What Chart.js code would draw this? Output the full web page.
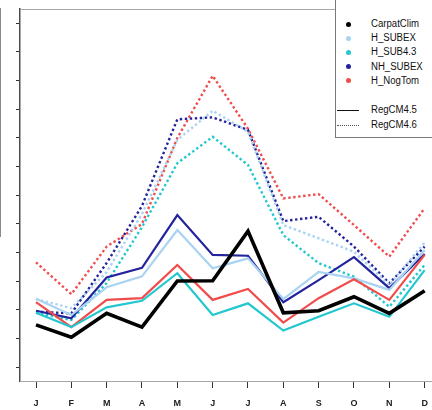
<!DOCTYPE html>
<html>
<head>
<meta charset="utf-8">
<script src="https://cdn.jsdelivr.net/npm/chart.js@4"></script>
<style>
  html, body { margin: 0; padding: 0; background: #fff; }
  body { width: 432px; height: 410px; overflow: hidden; position: relative; font-family: "Liberation Sans", Arial, sans-serif; }
  #wrap { position: absolute; left: 0; top: 0; width: 441px; height: 410px; }
  .edge { position: absolute; left: 0; top: 8px; width: 1px; height: 229px; background: #8a8a8a; }
  .legend { position: absolute; left: 335px; top: -5px; width: 110px; height: 141px; border: 1px solid #7a7a7a; background: #fff; }
  .dot { position: absolute; left: 346px; width: 5px; height: 5px; border-radius: 50%; }
  .txt { position: absolute; left: 371px; font-size: 10px; line-height: 12px; color: #111; transform: scaleX(0.96); transform-origin: left center; white-space: nowrap; }
  .smp { position: absolute; left: 337px; width: 22px; height: 0; }
</style>
</head>
<body>
<div id="wrap"><canvas id="c" width="441" height="410"></canvas></div>
<div class="edge"></div>
<div class="legend"></div>
<div id="leg"></div>
<script>
// month labels and axis ticks
const months = ['J', 'F', 'M', 'A', 'M', 'J', 'J', 'A', 'S', 'O', 'N', 'D'];
const yTicks = [0, 10, 20, 30, 40, 50, 60, 70, 80, 90, 100, 110, 120];

// observations
const carpatClim = [14.8, 10.5, 18.8, 14.0, 30.1, 30.2, 47.5, 19.0, 19.7, 24.6, 18.8, 26.7];

// RegCM4.5 runs
const hSubex45  = [23.9, 18.2, 27.9, 31.7, 47.9, 34.5, 38.0, 23.8, 33.3, 31.0, 27.0, 40.9];
const hSub43_45 = [19.0, 14.0, 20.9, 23.2, 32.8, 18.2, 22.3, 12.8, 17.6, 22.3, 17.6, 33.9];
const nhSubex45 = [19.7, 17.1, 31.3, 34.7, 53.1, 39.2, 38.9, 22.7, 30.4, 38.4, 27.6, 39.5];
const hNogTom45 = [22.7, 14.0, 23.5, 24.1, 35.7, 23.5, 27.3, 15.6, 24.1, 30.7, 23.5, 39.2];

// RegCM4.6 runs
const hSubex46  = [23.8, 20.6, 33.2, 53.5, 79.3, 89.5, 82.2, 49.6, 45.0, 40.3, 28.7, 43.5];
const hSub43_46 = [19.0, 16.5, 29.4, 48.9, 71.2, 80.4, 70.6, 46.1, 36.3, 31.6, 21.1, 35.7];
const nhSubex46 = [19.4, 18.8, 36.4, 56.3, 86.5, 87.2, 82.8, 51.0, 52.5, 42.1, 29.3, 42.1];
const hNogTom46 = [36.6, 25.5, 42.1, 50.0, 80.0, 101.7, 83.2, 58.9, 60.4, 49.6, 38.6, 55.5];

const COL = {
  obs: '#000000',
  hSubex: '#a9d3f0',
  hSub43: '#22c7cf',
  nhSubex: '#23239c',
  hNogTom: '#f04c4c'
};

const pts = arr => arr.map((v, i) => ({ x: i, y: v }));

function solid(label, arr, color, width) {
  return { label, data: pts(arr), borderColor: color, borderWidth: width,
           pointRadius: 0, tension: 0, fill: false, borderJoinStyle: 'miter' };
}
function dotted(label, arr, color) {
  return { label, data: pts(arr), borderColor: color, borderWidth: 2.4,
           borderDash: [2.4, 2.6], borderCapStyle: 'butt',
           pointRadius: 0, tension: 0, fill: false };
}

// first dataset is painted last (on top)
const datasets = [
  solid('CarpatClim', carpatClim, COL.obs, 3.6),
  solid('H_SUB4.3 RegCM4.5', hSub43_45, COL.hSub43, 2.2),
  solid('H_NogTom RegCM4.5', hNogTom45, COL.hNogTom, 2.2),
  solid('H_SUBEX RegCM4.5', hSubex45, COL.hSubex, 2.2),
  solid('NH_SUBEX RegCM4.5', nhSubex45, COL.nhSubex, 2.2),
  dotted('H_SUBEX RegCM4.6', hSubex46, COL.hSubex),
  dotted('H_SUB4.3 RegCM4.6', hSub43_46, COL.hSub43),
  dotted('NH_SUBEX RegCM4.6', nhSubex46, COL.nhSubex),
  dotted('H_NogTom RegCM4.6', hNogTom46, COL.hNogTom)
];

// thin grey box around the plotting region
const frame = {
  id: 'frame',
  beforeDatasetsDraw(chart) {
    const a = chart.chartArea, ctx = chart.ctx;
    ctx.save();
    ctx.strokeStyle = '#a8a8a8';
    ctx.lineWidth = 1;
    ctx.strokeRect(a.left + 0.5, a.top + 0.5, a.right - a.left, a.bottom - a.top);
    ctx.restore();
  }
};

new Chart(document.getElementById('c'), {
  type: 'line',
  data: { datasets },
  plugins: [frame],
  options: {
    responsive: false,
    animation: false,
    devicePixelRatio: 1,
    layout: { padding: { top: 9, left: 0, right: 0, bottom: 0 } },
    plugins: { legend: { display: false }, tooltip: { enabled: false } },
    scales: {
      x: {
        type: 'linear',
        min: -0.453,
        max: 11.463,
        afterBuildTicks: s => { s.ticks = months.map((m, i) => ({ value: i })); },
        afterFit: s => { s.height = 29; },
        grid: { drawOnChartArea: false, drawTicks: true, tickLength: 7, color: '#333', lineWidth: 1 },
        border: { display: true, color: '#8c8c8c', width: 1 },
        ticks: {
          autoSkip: false,
          maxRotation: 0,
          padding: 10,
          color: '#222',
          font: { family: 'Liberation Sans', size: 9, weight: 'bold' },
          callback: v => months[v]
        }
      },
      y: {
        type: 'linear',
        min: -4.8,
        max: 125,
        afterBuildTicks: s => { s.ticks = yTicks.map(v => ({ value: v })); },
        afterFit: s => { s.width = 20; },
        grid: { drawOnChartArea: false, drawTicks: true, tickLength: 4, color: '#333', lineWidth: 1 },
        border: { display: true, color: '#4a4a4a', width: 1.6 },
        ticks: { display: false }
      }
    }
  }
});

// legend entries
const legItems = [
  { t: 'CarpatClim', c: COL.obs, y: 24 },
  { t: 'H_SUBEX', c: COL.hSubex, y: 38 },
  { t: 'H_SUB4.3', c: COL.hSub43, y: 52 },
  { t: 'NH_SUBEX', c: COL.nhSubex, y: 66.5 },
  { t: 'H_NogTom', c: COL.hNogTom, y: 80.5 }
];
const legLines = [
  { t: 'RegCM4.5', s: '1px solid #111', y: 110 },
  { t: 'RegCM4.6', s: '1px dotted #555', y: 125 }
];
const leg = document.getElementById('leg');
legItems.forEach(it => {
  const d = document.createElement('div');
  d.className = 'dot';
  d.style.top = (it.y - 2.5) + 'px';
  d.style.background = it.c;
  leg.appendChild(d);
  const s = document.createElement('div');
  s.className = 'txt';
  s.style.top = (it.y - 6) + 'px';
  s.textContent = it.t;
  leg.appendChild(s);
});
legLines.forEach(it => {
  const l = document.createElement('div');
  l.className = 'smp';
  l.style.top = it.y + 'px';
  l.style.borderTop = it.s;
  leg.appendChild(l);
  const s = document.createElement('div');
  s.className = 'txt';
  s.style.top = (it.y - 6) + 'px';
  s.textContent = it.t;
  leg.appendChild(s);
});
</script>
</body>
</html>
